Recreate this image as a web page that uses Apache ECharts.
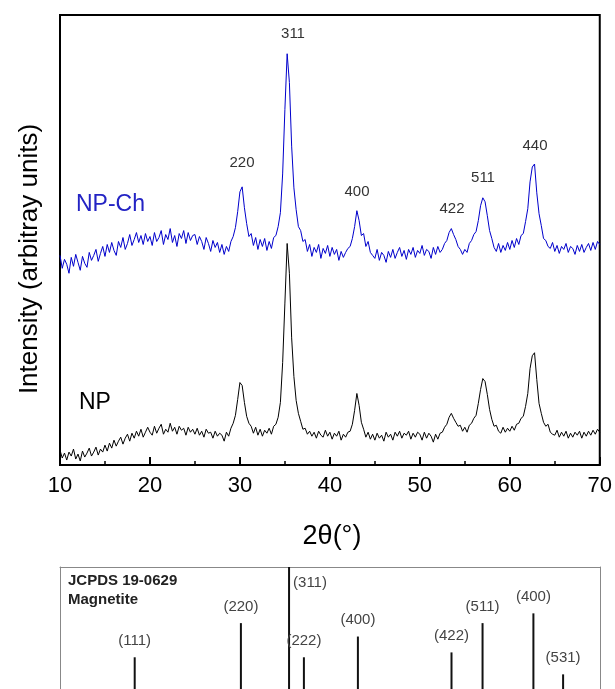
<!DOCTYPE html>
<html>
<head>
<meta charset="utf-8">
<script src="https://cdn.jsdelivr.net/npm/echarts@6/dist/echarts.min.js"></script>
<style>
  html, body { margin: 0; padding: 0; background: #fff; }
  #main { width: 615px; height: 689px; }
</style>
</head>
<body>
<div id="main"></div>
<script>
// 2theta grid of the scans (degrees)
const angleStart = 10
const angleStep = 0.25

// NP-Ch (blue) scan, one value every 0.25 deg
const npCh = [
  208, 195, 204, 199, 190, 206, 197, 209, 201, 193, 207, 200, 196, 211, 203, 208, 214, 202, 210, 217,
  207, 219, 211, 221, 213, 208, 222, 216, 226, 214, 220, 229, 218, 224, 231, 221, 228, 219, 230, 222,
  227, 218, 231, 222, 226, 233, 219, 229, 224, 235, 221, 228, 217, 230, 225, 233, 220, 231, 223, 228,
  229, 219, 227, 222, 214, 226, 220, 212, 223, 216, 221, 211, 219, 209, 217, 212, 222, 227, 236, 252,
  272, 277, 256, 240, 227, 230, 218, 226, 214, 224, 217, 225, 213, 222, 215, 226, 228, 237, 251, 290,
  355, 411, 382, 318, 276, 254, 237, 233, 222, 224, 212, 219, 207, 216, 211, 219, 205, 215, 210, 218,
  207, 216, 209, 214, 203, 212, 206, 211, 215, 217, 225, 237, 253, 243, 228, 230, 217, 222, 211, 208,
  205, 214, 203, 211, 208, 201, 212, 206, 214, 205, 211, 216, 207, 213, 204, 214, 209, 216, 206, 213,
  210, 218, 208, 214, 212, 205, 216, 209, 217, 211, 214, 220, 223, 231, 235, 229, 224, 217, 214, 209,
  214, 211, 220, 223, 229, 232, 243, 258, 266, 262, 248, 233, 225, 216, 212, 220, 211, 218, 213, 221,
  214, 223, 216, 225, 219, 228, 230, 242, 255, 282, 297, 300, 271, 250, 238, 225, 223, 217, 215, 221,
  212, 218, 210, 217, 214, 220, 211, 217, 215, 209, 218, 212, 219, 211, 216, 220, 213, 221, 214, 222,
  219
]

// NP (black) scan
const np = [
  12, 4, 9, 2, 10, 6, 13, 3, 8, 1, 11, 5, 9, 14, 6, 10, 15, 7, 13, 10,
  17, 11, 19, 14, 22, 16, 21, 25, 18, 24, 28, 21, 29, 24, 31, 26, 33, 25, 30, 35,
  30, 27, 36, 29, 34, 38, 28, 33, 30, 39, 31, 35, 28, 36, 32, 34, 27, 35, 30, 33,
  28, 34, 27, 31, 25, 33, 29, 30, 24, 31, 26, 29, 27, 21, 30, 26, 34, 39, 47, 63,
  80, 77, 60, 46, 39, 36, 29, 35, 27, 33, 26, 32, 29, 34, 28, 36, 38, 45, 60, 100,
  160, 220, 190, 125, 86, 62, 49, 41, 33, 34, 28, 31, 26, 30, 24, 31, 27, 25, 32, 26,
  30, 23, 29, 26, 31, 22, 28, 25, 30, 31, 38, 52, 69, 57, 40, 33, 25, 30, 23, 28,
  22, 29, 24, 27, 21, 30, 25, 28, 22, 30, 26, 31, 24, 29, 27, 31, 23, 29, 25, 30,
  28, 22, 30, 24, 29, 26, 20, 28, 23, 29, 30, 35, 38, 45, 49, 44, 40, 36, 37, 31,
  35, 30, 37, 39, 44, 47, 59, 73, 84, 81, 68, 53, 43, 36, 37, 31, 29, 35, 30, 34,
  31, 36, 32, 38, 39, 44, 46, 56, 69, 94, 107, 110, 83, 59, 49, 40, 36, 38, 30, 28,
  27, 32, 25, 30, 26, 31, 24, 29, 25, 30, 27, 31, 24, 30, 26, 31, 27, 32, 28, 33,
  30
]

// JCPDS 19-0629 magnetite reference lines
const refAngles = [18.3, 30.1, 35.45, 37.1, 43.1, 53.5, 56.95, 62.6, 65.9]
const refHeights = [26, 54, 100, 26, 43, 30, 54, 62, 12]
const refLabels = ['(111)', '(220)', '(311)', '(222)', '(400)', '(422)', '(511)', '(400)', '(531)']

// peak labels of the scans
const peakNames = ['220', '311', '400', '422', '511', '440']

const font = 'Liberation Sans, Arial, sans-serif'

function toPairs(values) {
  return values.map((v, i) => [angleStart + i * angleStep, v])
}

const chartDom = document.getElementById('main')
const myChart = echarts.init(chartDom, null, { renderer: 'canvas' })

const peakPos = [
  [242, 163], [293, 34], [357, 192], [452, 209], [483, 178], [535, 146],
]
const peakText = peakNames.map((name, i) => ({
  type: 'text',
  x: peakPos[i][0],
  y: peakPos[i][1],
  style: {
    text: name,
    fontFamily: font,
    fontSize: 15,
    fill: '#333',
    align: 'center',
    verticalAlign: 'middle',
  },
}))

const refData = refAngles.map((a, i) => {
  const item = { value: [a, refHeights[i]], name: refLabels[i] }
  if (refHeights[i] >= 100) {
    // the strongest line reaches the top, its label sits beside it
    item.label = { position: [5, 8], align: 'left', verticalAlign: 'top' }
  }
  return item
})

const boxLine = { show: true, onZero: false, lineStyle: { color: '#888', width: 1 } }

let option = {
  backgroundColor: '#fff',
  animation: false,
  grid: [
    {
      left: 60,
      right: 15,
      top: 15,
      bottom: 224,
      show: true,
      borderColor: '#000',
      borderWidth: 2,
    },
    {
      left: 60,
      right: 15,
      top: 567,
      bottom: 0,
    },
  ],
  xAxis: [
    {
      gridIndex: 0,
      type: 'value',
      min: 10,
      max: 70,
      interval: 10,
      axisLine: { onZero: false, lineStyle: { color: '#000', width: 2 } },
      axisTick: { inside: true, length: 8, lineStyle: { color: '#000', width: 2 } },
      minorTick: { show: true, splitNumber: 2, length: 4, lineStyle: { color: '#000', width: 1.5 } },
      splitLine: { show: false },
      axisLabel: { fontFamily: font, fontSize: 22, color: '#000', margin: 10 },
    },
    {
      gridIndex: 1,
      type: 'value',
      min: 10,
      max: 70,
      position: 'top',
      axisLine: boxLine,
      axisTick: { show: false },
      axisLabel: { show: false },
      splitLine: { show: false },
    },
  ],
  yAxis: [
    {
      gridIndex: 0,
      type: 'value',
      min: -3,
      max: 450,
      axisLine: { show: true, onZero: false, lineStyle: { color: '#000', width: 2 } },
      axisTick: { show: false },
      axisLabel: { show: false },
      splitLine: { show: false },
    },
    {
      gridIndex: 1,
      type: 'value',
      min: 0,
      max: 100,
      axisLine: boxLine,
      axisTick: { show: false },
      axisLabel: { show: false },
      splitLine: { show: false },
    },
    {
      gridIndex: 1,
      type: 'value',
      position: 'right',
      min: 0,
      max: 100,
      axisLine: boxLine,
      axisTick: { show: false },
      axisLabel: { show: false },
      splitLine: { show: false },
    },
  ],
  series: [
    {
      name: 'NP-Ch',
      type: 'line',
      xAxisIndex: 0,
      yAxisIndex: 0,
      data: toPairs(npCh),
      showSymbol: false,
      lineStyle: { color: '#0000cc', width: 1 },
    },
    {
      name: 'NP',
      type: 'line',
      xAxisIndex: 0,
      yAxisIndex: 0,
      data: toPairs(np),
      showSymbol: false,
      lineStyle: { color: '#000', width: 1 },
    },
    {
      name: 'JCPDS',
      type: 'bar',
      xAxisIndex: 1,
      yAxisIndex: 1,
      barWidth: 2,
      data: refData,
      itemStyle: { color: '#111' },
      label: {
        show: true,
        position: 'top',
        distance: 9,
        formatter: '{b}',
        fontFamily: font,
        fontSize: 15,
        color: '#444',
      },
    },
  ],
  graphic: [
    {
      type: 'text',
      x: 30,
      y: 259,
      rotation: Math.PI / 2,
      style: {
        text: 'Intensity (arbitray units)',
        fontFamily: font,
        fontSize: 26,
        fill: '#000',
        align: 'center',
        verticalAlign: 'middle',
      },
    },
    {
      type: 'text',
      x: 332,
      y: 537,
      style: {
        text: '2θ(°)',
        fontFamily: font,
        fontSize: 27,
        fill: '#000',
        align: 'center',
        verticalAlign: 'middle',
      },
    },
    {
      type: 'text',
      x: 76,
      y: 205,
      style: {
        text: 'NP-Ch',
        fontFamily: font,
        fontSize: 23,
        fill: '#2323c4',
        align: 'left',
        verticalAlign: 'middle',
      },
    },
    {
      type: 'text',
      x: 79,
      y: 403,
      style: {
        text: 'NP',
        fontFamily: font,
        fontSize: 23,
        fill: '#000',
        align: 'left',
        verticalAlign: 'middle',
      },
    },
    {
      type: 'text',
      x: 68,
      y: 581,
      style: {
        text: 'JCPDS 19-0629',
        fontFamily: font,
        fontSize: 15,
        fontWeight: 'bold',
        fill: '#222',
        align: 'left',
        verticalAlign: 'middle',
      },
    },
    {
      type: 'text',
      x: 68,
      y: 600,
      style: {
        text: 'Magnetite',
        fontFamily: font,
        fontSize: 15,
        fontWeight: 'bold',
        fill: '#222',
        align: 'left',
        verticalAlign: 'middle',
      },
    },
  ].concat(peakText),
}
myChart.setOption(option)
</script>
</body>
</html>
